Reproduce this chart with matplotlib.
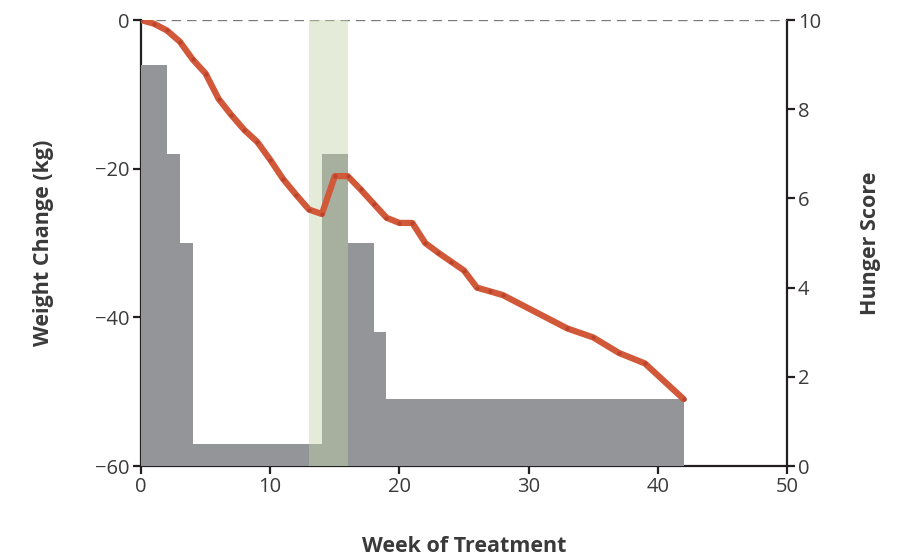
import numpy as np
import matplotlib
matplotlib.use('Agg')
import matplotlib.pyplot as plt

plt.rcParams['font.family'] = ['Open Sans', 'DejaVu Sans']

# weight change (kg) by week
weeks = [0, 1, 2, 3, 4, 5, 6, 7, 8, 9, 10, 11, 12, 13, 14, 15, 16, 17, 18, 19,
         20, 21, 22, 23, 24, 25, 26, 27, 28, 33, 35, 37, 39, 42]
weight = [0, -0.5, -1.4, -2.9, -5.3, -7.2, -10.6, -12.8, -14.8, -16.4, -18.8,
          -21.4, -23.5, -25.5, -26.1, -21.0, -21.0, -22.8, -24.7, -26.6,
          -27.3, -27.3, -30.0, -31.3, -32.5, -33.7, -36.0, -36.5, -37.0,
          -41.5, -42.7, -44.8, -46.2, -51.0]

# hunger score, step starts at these weeks
hunger_weeks = [0, 2, 3, 4, 14, 16, 18, 19, 42]
hunger = [9, 7, 5, 0.5, 7, 5, 3, 1.5, 1.5]

shade = (13, 16)

ymin, ymax = -60, 0
hmax = 10


def h2w(h):
    return ymin + np.asarray(h) * (ymax - ymin) / hmax


def w2h(w):
    return (np.asarray(w) - ymin) * hmax / (ymax - ymin)


txt = '#231f20'
lab = '#3a3a3a'
fig = plt.figure(figsize=(8.97, 5.57), dpi=100)
ax = fig.add_axes([141/897, 1-466/557, 646/897, 446/557])

ax.fill_between(hunger_weeks, ymin, h2w(hunger), step='post',
                color='#939598', lw=0, zorder=3)
ax.axvspan(shade[0], shade[1], color='#c2d5a7', alpha=0.43, lw=0, zorder=3.5)
ax.axhline(0, color='#7a7a7a', lw=1.7, ls=(0, (4, 2.5)), zorder=2)
ax.plot(weeks, weight, color='#d2583a', lw=4.5, solid_capstyle='round',
        solid_joinstyle='round', zorder=5)
ax.plot(weeks, weight, 'o', color='#b9432b', ms=2, zorder=6)

ax.set_xlim(0, 50)
ax.set_ylim(ymin, ymax)
ax.set_xticks(range(0, 51, 10))
ax.set_yticks([0, -20, -40, -60])
ax.set_yticklabels(['0', '\u221220', '\u221240', '\u221260'])

for s in ['top', 'right']:
    ax.spines[s].set_visible(False)
for s in ['left', 'bottom']:
    ax.spines[s].set_linewidth(1.6)
    ax.spines[s].set_color(txt)
ax.tick_params(length=6, width=1.6, color=txt, labelcolor=lab,
               labelsize=14.5, pad=2)

sec = ax.secondary_yaxis('right', functions=(w2h, h2w))
sec.set_yticks(range(0, 11, 2))
sec.spines['right'].set_linewidth(1.6)
sec.spines['right'].set_color(txt)
sec.tick_params(length=6, width=1.6, color=txt, labelcolor=lab,
                labelsize=14.5, pad=2)

ax.set_xlabel('Week of Treatment', fontsize=15.5, fontweight='bold', color=lab,
              labelpad=28)
ax.set_ylabel('Weight Change (kg)', fontsize=15.5, fontweight='bold', color=lab,
              labelpad=30)
sec.set_ylabel('Hunger Score', fontsize=15.5, fontweight='bold', color=lab,
               labelpad=28)

fig.savefig('out.png', dpi=100)
